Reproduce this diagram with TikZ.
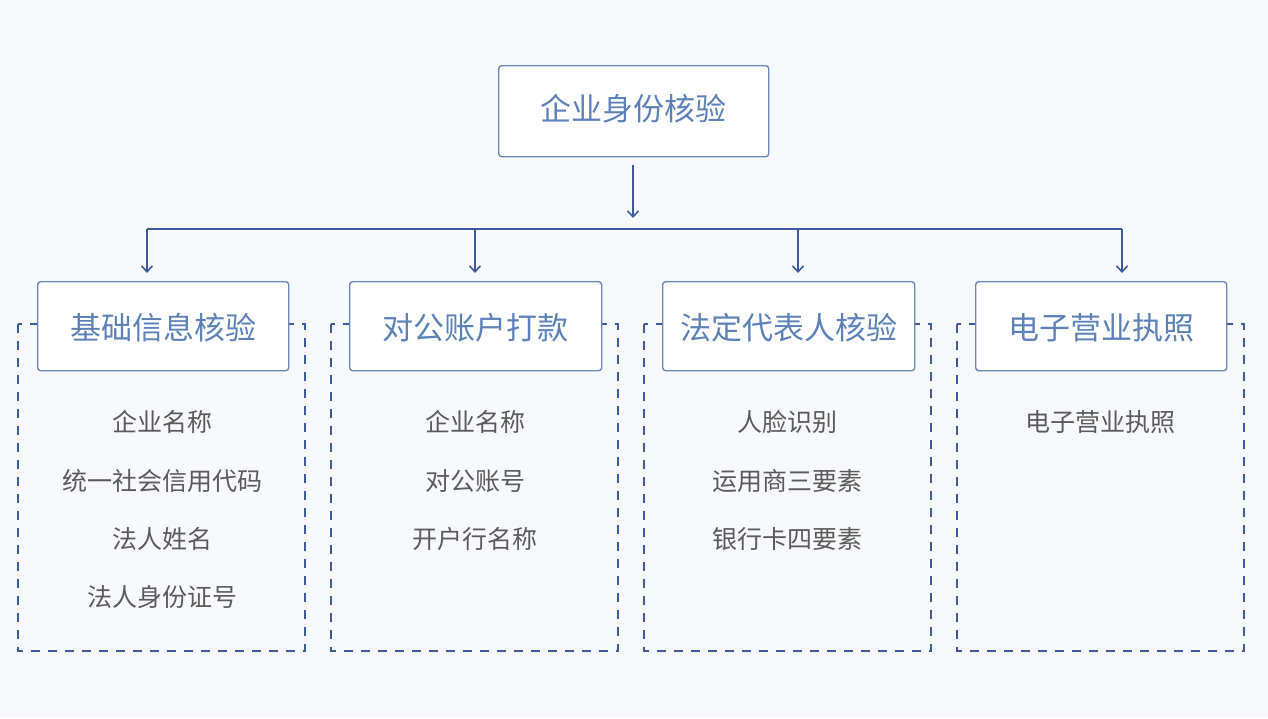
\documentclass[tikz,border=0pt]{standalone}
\usepackage{fontspec}
\setmainfont{Noto Sans CJK SC}
\usetikzlibrary{arrows.meta}
\definecolor{bg}{HTML}{F6F8FB}
\definecolor{boxline}{HTML}{6A86BC}
\definecolor{conn}{HTML}{3F5A9A}
\definecolor{titletxt}{HTML}{5B81B8}
\definecolor{itemtxt}{HTML}{5A5A5A}
\tikzset{
  titlebox/.style={draw=boxline, line width=1.4pt, fill=white, rounded corners=3pt, anchor=north west, inner sep=0pt},
  dashbox/.style={draw=conn, line width=1.8pt, dash pattern=on 9pt off 8pt},
  conline/.style={draw=conn, line width=1.6pt},
  arr/.style={conline, -{Straight Barb[length=6pt,width=11pt]}},
  ttext/.style={text=titletxt, font=\fontsize{31pt}{36pt}\selectfont},
  itext/.style={text=itemtxt, font=\fontsize{25pt}{30pt}\selectfont}
}
\begin{document}
\begin{tikzpicture}[x=1pt,y=-1pt]
\fill[bg] (0,0) rectangle (1268,718);
\useasboundingbox (0,0) rectangle (1268,718);
% top
\node[titlebox, minimum width=270pt, minimum height=91pt] (top) at (498,65) {};
\node[ttext] (toptxt) at (633,109) {企业身份核验};
\coordinate (arrstart) at (633,165);
\coordinate (bus) at (633,229);
\draw[arr] (arrstart) -- (633,218);
\coordinate (busL) at (147,229);
\coordinate (busR) at (1122,229);
\draw[conline] (busL) -- (busR);
% dashed boxes
\foreach \x/\n in {18/d1,331/d2,644/d3,957/d4}{
  \draw[dashbox] (\x,324) rectangle ++(287,327);
}
% child boxes
\node[titlebox, minimum width=251pt, minimum height=89pt] (c1) at (37,281) {};
\node[titlebox, minimum width=252pt, minimum height=89pt] (c2) at (349,281) {};
\node[titlebox, minimum width=252pt, minimum height=89pt] (c3) at (662,281) {};
\node[titlebox, minimum width=251pt, minimum height=89pt] (c4) at (975,281) {};
\node[ttext] at ([yshift=-1.5pt]c1.center) {基础信息核验};
\node[ttext] at ([yshift=-1.5pt]c2.center) {对公账户打款};
\node[ttext] at ([yshift=-1.5pt]c3.center) {法定代表人核验};
\node[ttext] at ([yshift=-1.5pt]c4.center) {电子营业执照};
% arrows
\draw[arr] (busL) -- (147,273);
\draw[arr] (475,229) -- (475,273);
\draw[arr] (798,229) -- (798,273);
\draw[arr] (busR) -- (1122,273);
% items
\node[itext] at (162,422) {企业名称};
\node[itext] at (162,481) {统一社会信用代码};
\node[itext] at (162,539) {法人姓名};
\node[itext] at (162,597) {法人身份证号};
\node[itext] at (475,422) {企业名称};
\node[itext] at (475,481) {对公账号};
\node[itext] at (475,539) {开户行名称};
\node[itext] at (787,422) {人脸识别};
\node[itext] at (787,481) {运用商三要素};
\node[itext] at (787,539) {银行卡四要素};
\node[itext] at (1100,422) {电子营业执照};
\end{tikzpicture}
\end{document}
